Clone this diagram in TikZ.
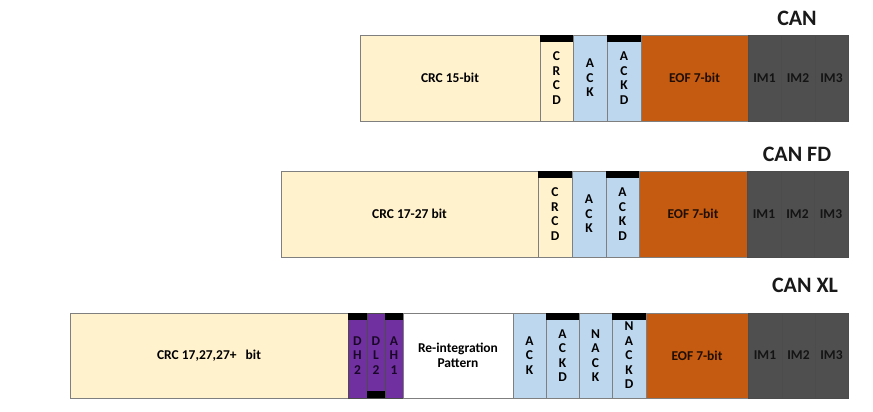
\documentclass[tikz,border=0pt]{standalone}
\usepackage{fontspec}
\setmainfont{Carlito}
\definecolor{crc}{HTML}{FFF2CC}
\definecolor{ackc}{HTML}{BDD7EE}
\definecolor{eofc}{HTML}{C55A11}
\definecolor{imc}{HTML}{4F4F4F}
\definecolor{imtext}{HTML}{141414}
\definecolor{purp}{HTML}{7030A0}
\definecolor{purptext}{HTML}{1A0828}
\definecolor{cellline}{HTML}{7F7F7F}
\begin{document}
\begin{tikzpicture}[x=1pt,y=-1pt,
  lab/.style={font=\bfseries\fontsize{13.5}{14.5}\selectfont, align=center},
  cell/.style={draw=cellline, line width=0.9pt, inner sep=0pt, outer sep=0pt, anchor=north west, lab},
  crccell/.style={cell, fill=crc},
  ackcell/.style={cell, fill=ackc},
  eofcell/.style={cell, fill=eofc, text=black!85!eofc},
  imcell/.style={cell, fill=imc, draw=black!70, text=imtext},
  purpcell/.style={cell, fill=purp, draw=black!70, text=purptext},
  whitecell/.style={cell, fill=white},
  bar/.style={fill=black, inner sep=0pt, outer sep=0pt, minimum height=7pt},
  title/.style={font=\bfseries\fontsize{22}{24}\selectfont, text=black!90}
]
\useasboundingbox (0,0) rectangle (873,412);
\fill[white] (0,0) rectangle (873,412);

% ---------------- CAN ----------------
\node[title] (tA) at (797,18) {CAN};
\begin{scope}[every node/.append style={minimum height=86pt}]
\node[crccell, minimum width=180pt] (crcA) at (360,35) {CRC 15-bit};
\node[crccell, minimum width=33pt] (crcdA) at (540,35) {C\\R\\C\\D};
\node[ackcell, minimum width=34pt] (ackA) at (573,35) {A\\C\\K};
\node[ackcell, minimum width=34pt] (ackdA) at (607,35) {A\\C\\K\\D};
\node[eofcell, minimum width=107pt] (eofA) at (641,35) {EOF 7-bit};
\node[imcell, minimum width=33pt] (im1A) at (748,35) {IM1};
\node[imcell, minimum width=34pt] (im2A) at (781,35) {IM2};
\node[imcell, minimum width=33pt] (im3A) at (815,35) {IM3};
\end{scope}
\node[bar, anchor=north west, minimum width=33pt] (bcrcdA) at (540,35) {};
\node[bar, anchor=north west, minimum width=34pt] (backdA) at (607,35) {};

% ---------------- CAN FD ----------------
\node[title] (tB) at (797,154) {CAN FD};
\begin{scope}[every node/.append style={minimum height=86pt}]
\node[crccell, minimum width=257pt] (crcB) at (281,171) {CRC 17-27 bit};
\node[crccell, minimum width=34pt] (crcdB) at (538,171) {C\\R\\C\\D};
\node[ackcell, minimum width=34pt] (ackB) at (572,171) {A\\C\\K};
\node[ackcell, minimum width=33pt] (ackdB) at (606,171) {A\\C\\K\\D};
\node[eofcell, minimum width=108pt] (eofB) at (639,171) {EOF 7-bit};
\node[imcell, minimum width=34pt] (im1B) at (747,171) {IM1};
\node[imcell, minimum width=33pt] (im2B) at (781,171) {IM2};
\node[imcell, minimum width=34pt] (im3B) at (814,171) {IM3};
\end{scope}
\node[bar, anchor=north west, minimum width=34pt] (bcrcdB) at (538,171) {};
\node[bar, anchor=north west, minimum width=33pt] (backdB) at (606,171) {};

% ---------------- CAN XL ----------------
\node[title] (tC) at (805,285) {CAN XL};
\begin{scope}[every node/.append style={minimum height=85pt}]
\node[crccell, minimum width=278pt] (crcC) at (70,313) {CRC 17,27,27+\ \ \ bit};
\node[purpcell, minimum width=19pt] (dh2) at (348,313) {D\\H\\2};
\node[purpcell, minimum width=18pt] (dl2) at (367,313) {D\\L\\2};
\node[purpcell, minimum width=18pt] (ah1) at (385,313) {A\\H\\1};
\node[whitecell, minimum width=110pt] (reint) at (403,313) {Re-integration\\Pattern};
\node[ackcell, minimum width=33pt] (ackC) at (513,313) {A\\C\\K};
\node[ackcell, minimum width=33pt] (ackdC) at (546,313) {A\\C\\K\\D};
\node[ackcell, minimum width=33pt] (nackC) at (579,313) {N\\A\\C\\K};
\node[ackcell, minimum width=34pt] (nackdC) at (612,313) {N\\A\\C\\K\\D};
\node[eofcell, minimum width=102pt] (eofC) at (646,313) {EOF 7-bit};
\node[imcell, minimum width=34pt] (im1C) at (748,313) {IM1};
\node[imcell, minimum width=33pt] (im2C) at (782,313) {IM2};
\node[imcell, minimum width=33pt] (im3C) at (815,313) {IM3};
\end{scope}
\node[bar, anchor=north west, minimum width=19pt] (bdh2) at (348,313) {};
\node[bar, anchor=south west, minimum width=18pt] (bdl2) at (367,398) {};
\node[bar, anchor=north west, minimum width=18pt] (bah1) at (385,313) {};
\node[bar, anchor=north west, minimum width=33pt] (backdC) at (546,313) {};
\node[bar, anchor=north west, minimum width=34pt] (bnackdC) at (612,313) {};
\end{tikzpicture}
\end{document}
